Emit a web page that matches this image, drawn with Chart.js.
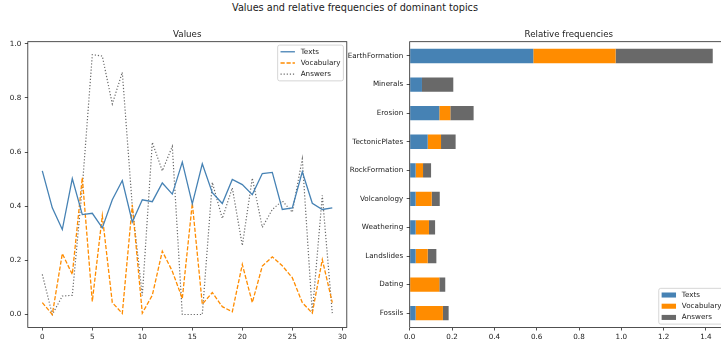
<!DOCTYPE html>
<html>
<head>
<meta charset="utf-8">
<script src="https://cdn.jsdelivr.net/npm/chart.js@4.4.1/dist/chart.umd.min.js"></script>
<style>
  html, body { margin: 0; padding: 0; background: #fff; overflow: hidden; width: 721px; height: 346px; }
  #wrap { position: relative; width: 721px; height: 346px; overflow: hidden; }
  canvas { position: absolute; top: 0; }
  .ttl { position: absolute; font-family: "DejaVu Sans", sans-serif; font-size: 8.7px; line-height: 8.7px;
         color: #1a1a1a; white-space: nowrap; text-align: center; width: 300px; }
  #supTitle { font-size: 9.7px; line-height: 9.7px; }
</style>
</head>
<body>
<div id="wrap">
  <div class="ttl" id="supTitle" style="left:205px; top:3.3px;">Values and relative frequencies of dominant topics</div>
  <canvas id="lineChart" width="360" height="346" style="left:0px"></canvas>
  <canvas id="barChart" width="400" height="346" style="left:340px"></canvas>
  <div class="ttl" id="lineTitle">Values</div>
  <div class="ttl" id="barTitle">Relative frequencies</div>
</div>
<script>
// ---- per-item values (left panel) ----
const itemIndex = [0, 1, 2, 3, 4, 5, 6, 7, 8, 9, 10, 11, 12, 13, 14, 15, 16, 17, 18, 19, 20, 21, 22, 23, 24, 25, 26, 27, 28, 29];
const textsValues = [0.531, 0.394, 0.314, 0.502, 0.369, 0.374, 0.320, 0.424, 0.495, 0.342,
                     0.424, 0.417, 0.486, 0.445, 0.563, 0.409, 0.557, 0.450, 0.410, 0.499,
                     0.480, 0.443, 0.521, 0.525, 0.388, 0.394, 0.527, 0.411, 0.388, 0.394];
const vocabularyValues = [0.044, 0.000, 0.225, 0.148, 0.506, 0.048, 0.365, 0.044, 0.004, 0.405,
                          0.005, 0.071, 0.234, 0.160, 0.059, 0.411, 0.038, 0.081, 0.029, 0.010,
                          0.185, 0.044, 0.179, 0.213, 0.180, 0.136, 0.044, 0.005, 0.203, 0.044];
const answersValues = [0.148, 0.000, 0.068, 0.071, 0.470, 0.960, 0.955, 0.778, 0.895, 0.400,
                       0.070, 0.636, 0.531, 0.621, 0.000, 0.000, 0.000, 0.488, 0.355, 0.468,
                       0.255, 0.504, 0.322, 0.388, 0.420, 0.378, 0.575, 0.005, 0.440, 0.005];

// ---- relative frequencies of dominant topics (right panel) ----
const topics = ["EarthFormation", "Minerals", "Erosion", "TectonicPlates", "RockFormation",
                "Volcanology", "Weathering", "Landslides", "Dating", "Fossils"];
const textsFreq      = [0.584, 0.058, 0.140, 0.085, 0.028, 0.028, 0.028, 0.028, 0.000, 0.028];
const vocabularyFreq = [0.389, 0.000, 0.052, 0.063, 0.035, 0.076, 0.063, 0.057, 0.140, 0.129];
const answersFreq    = [0.459, 0.148, 0.110, 0.069, 0.038, 0.038, 0.029, 0.041, 0.028, 0.027];

// ---- tick labels ----
const lineXTicks = [0, 5, 10, 15, 20, 25, 30];
const lineYTicks = [0.0, 0.2, 0.4, 0.6, 0.8, 1.0];
const barXTicks  = [0.0, 0.2, 0.4, 0.6, 0.8, 1.0, 1.2, 1.4];

const seriesNames = ["Texts", "Vocabulary", "Answers"];
const BLUE = "#4682B4", ORANGE = "#FF8C00", GREY = "#696969";
const TICK_FONT = { family: "DejaVu Sans", size: 7.2 };
const TEXT_COLOR = "#1a1a1a";

Chart.defaults.font.family = "DejaVu Sans";
Chart.defaults.animation = false;

// four-sided axes frame
const framePlugin = {
  id: "frame",
  afterDraw(chart) {
    const { ctx, chartArea: a } = chart;
    ctx.save();
    ctx.strokeStyle = "#262626";
    ctx.lineWidth = 0.8;
    ctx.strokeRect(a.left, a.top, a.right - a.left, a.bottom - a.top);
    ctx.restore();
  }
};

// legend drawn inside the plot area
const insideLegend = {
  id: "insideLegend",
  afterDatasetsDraw(chart, args, opts) {
    const { ctx, chartArea: a } = chart;
    const fs = 7.2;
    const sets = chart.data.datasets;
    ctx.save();
    ctx.font = fs + 'px "DejaVu Sans"';
    const tw = Math.max(...sets.map(d => ctx.measureText(d.label).width));
    const bp = 0.4 * fs, hl = 2 * fs, hp = 0.8 * fs, ls = 0.5 * fs, rowH = 7.6, pad = 3.4;
    const w = 2 * bp + hl + hp + tw;
    const h = 2 * bp + sets.length * rowH + (sets.length - 1) * ls;
    const x0 = a.right - pad - w;
    const y0 = opts.loc === "lower" ? a.bottom - pad - h : a.top + pad;
    ctx.beginPath();
    ctx.roundRect(x0, y0, w, h, 2);
    ctx.fillStyle = "rgba(255,255,255,0.8)";
    ctx.fill();
    ctx.strokeStyle = "#cccccc";
    ctx.lineWidth = 0.8;
    ctx.stroke();
    sets.forEach((d, i) => {
      const cy = y0 + bp + rowH / 2 + i * (rowH + ls);
      if (opts.handle === "line") {
        ctx.beginPath();
        ctx.setLineDash(d.borderDash || []);
        ctx.strokeStyle = d.borderColor;
        ctx.lineWidth = d.borderWidth;
        ctx.moveTo(x0 + bp, cy);
        ctx.lineTo(x0 + bp + hl, cy);
        ctx.stroke();
        ctx.setLineDash([]);
      } else {
        ctx.fillStyle = d.backgroundColor;
        ctx.fillRect(x0 + bp, cy - 0.35 * fs, hl, 0.7 * fs);
      }
      ctx.fillStyle = TEXT_COLOR;
      ctx.textBaseline = "middle";
      ctx.textAlign = "left";
      ctx.fillText(d.label, x0 + bp + hl + hp, cy);
    });
    ctx.restore();
  }
};

function fixedTicks(values) {
  return scale => { scale.ticks = values.map(v => ({ value: v })); };
}
const tickGrid = { drawOnChartArea: false, drawTicks: true, tickLength: 3, tickColor: "#262626", tickWidth: 0.8 };

// ---- left panel: values per item ----
const PLOT_TOP = 41.7, X_AXIS_H = 18.5;
const lineMax = Math.max(...textsValues, ...vocabularyValues, ...answersValues);
const lineMin = Math.min(...textsValues, ...vocabularyValues, ...answersValues);
const ySpan = lineMax - lineMin;
const xSpan = itemIndex[itemIndex.length - 1] - itemIndex[0];

const asPoints = vals => vals.map((v, i) => ({ x: itemIndex[i], y: v }));

const lineChart = new Chart(document.getElementById("lineChart"), {
  type: "line",
  data: {
    datasets: [
      { label: seriesNames[0], data: asPoints(textsValues), borderColor: BLUE, borderWidth: 1.3, borderDash: [] },
      { label: seriesNames[1], data: asPoints(vocabularyValues), borderColor: ORANGE, borderWidth: 1.3, borderDash: [4.2, 1.8] },
      { label: seriesNames[2], data: asPoints(answersValues), borderColor: GREY, borderWidth: 1.2, borderDash: [1.2, 1.9] }
    ]
  },
  options: {
    responsive: false,
    layout: { padding: { left: 0, right: 13.2, top: PLOT_TOP, bottom: 0 } },
    elements: { point: { radius: 0 }, line: { tension: 0, fill: false } },
    plugins: { legend: { display: false }, tooltip: { enabled: false }, insideLegend: { loc: "upper", handle: "line" } },
    scales: {
      x: {
        type: "linear",
        min: itemIndex[0] - 0.05 * xSpan,
        max: itemIndex[itemIndex.length - 1] + 0.05 * xSpan,
        afterBuildTicks: fixedTicks(lineXTicks),
        afterFit: s => { s.height = X_AXIS_H; },
        ticks: { font: TICK_FONT, color: TEXT_COLOR, padding: 2, autoSkip: false, maxRotation: 0, callback: v => String(v) },
        grid: tickGrid,
        border: { display: false }
      },
      y: {
        type: "linear",
        min: lineMin - 0.05 * ySpan,
        max: lineMax + 0.05 * ySpan,
        afterBuildTicks: fixedTicks(lineYTicks),
        afterFit: s => { s.width = 27.8; },
        ticks: { font: TICK_FONT, color: TEXT_COLOR, padding: 3.5, autoSkip: false, callback: v => Number(v).toFixed(1) },
        grid: tickGrid,
        border: { display: false }
      }
    }
  },
  plugins: [framePlugin, insideLegend]
});

// ---- right panel: stacked relative frequencies ----
const totals = topics.map((t, i) => textsFreq[i] + vocabularyFreq[i] + answersFreq[i]);
const barChart = new Chart(document.getElementById("barChart"), {
  type: "bar",
  data: {
    labels: topics,
    datasets: [
      { label: seriesNames[0], data: textsFreq, backgroundColor: BLUE },
      { label: seriesNames[1], data: vocabularyFreq, backgroundColor: ORANGE },
      { label: seriesNames[2], data: answersFreq, backgroundColor: GREY }
    ]
  },
  options: {
    responsive: false,
    indexAxis: "y",
    layout: { padding: { left: 0, right: 12.1, top: PLOT_TOP, bottom: 0 } },
    datasets: { bar: { barPercentage: 0.5, categoryPercentage: 1.0, borderWidth: 0 } },
    plugins: { legend: { display: false }, tooltip: { enabled: false }, insideLegend: { loc: "lower", handle: "box" } },
    scales: {
      x: {
        type: "linear",
        stacked: true,
        min: 0,
        max: Math.max(...totals) * 1.05,
        afterBuildTicks: fixedTicks(barXTicks),
        afterFit: s => { s.height = X_AXIS_H; },
        ticks: { font: TICK_FONT, color: TEXT_COLOR, padding: 2, autoSkip: false, maxRotation: 0, callback: v => Number(v).toFixed(1) },
        grid: tickGrid,
        border: { display: false }
      },
      y: {
        type: "category",
        stacked: true,
        afterFit: s => { s.width = 69.7; },
        ticks: { font: TICK_FONT, color: TEXT_COLOR, padding: 3.5, autoSkip: false },
        grid: Object.assign({ offset: false }, tickGrid),
        border: { display: false }
      }
    }
  },
  plugins: [framePlugin, insideLegend]
});

// centre the panel titles over their plot areas
function placeTitle(el, chart, canvasLeft) {
  const a = chart.chartArea;
  const cx = canvasLeft + (a.left + a.right) / 2;
  el.style.left = (cx - 150) + "px";
  el.style.top = "29.9px";
}
placeTitle(document.getElementById("lineTitle"), lineChart, 0);
placeTitle(document.getElementById("barTitle"), barChart, 340);
</script>
</body>
</html>
